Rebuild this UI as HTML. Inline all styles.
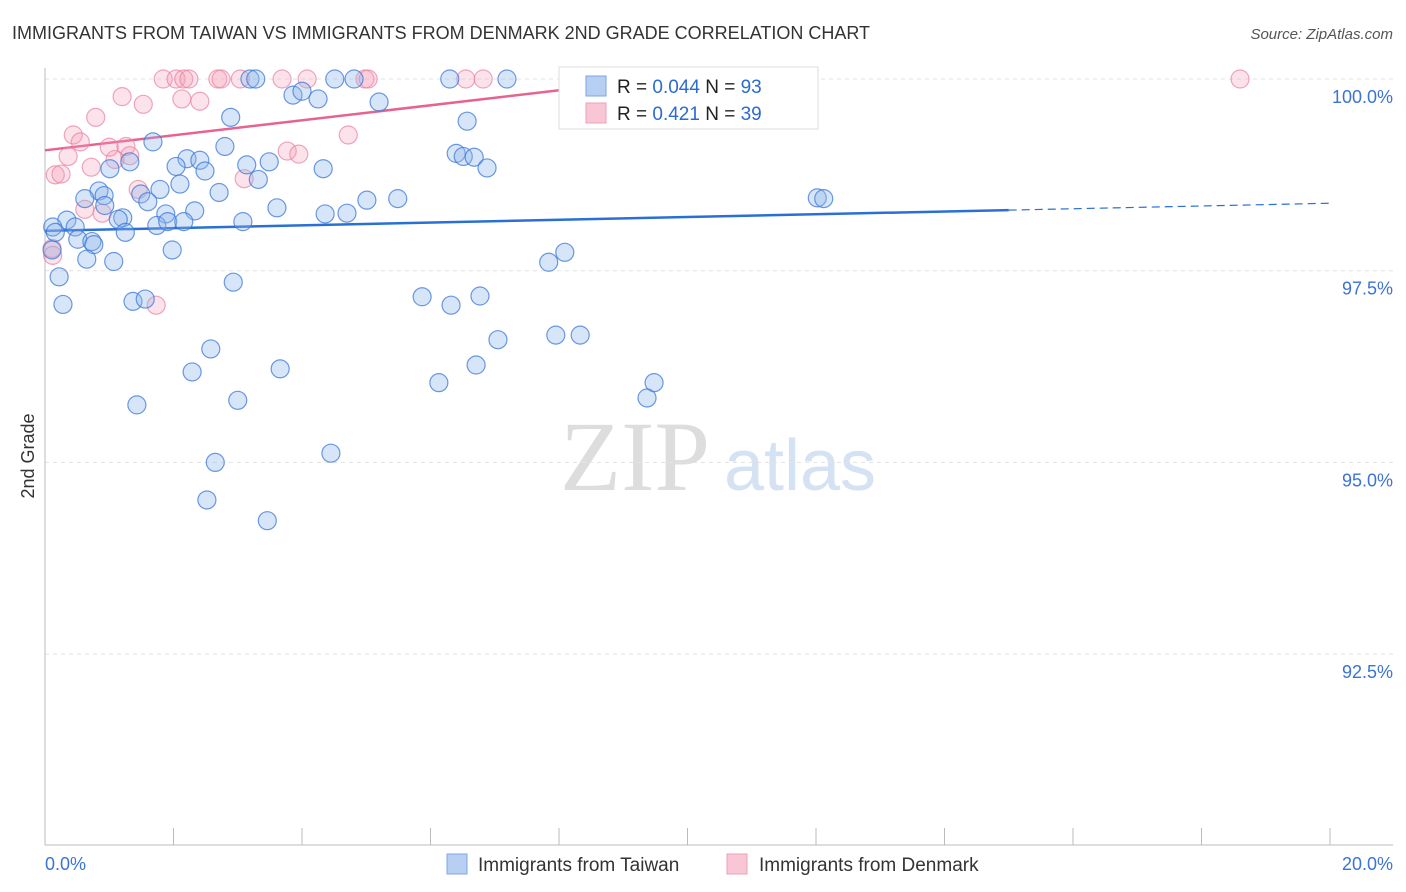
<!DOCTYPE html>
<html><head><meta charset="utf-8"><style>
body{margin:0;background:#fff;font-family:"Liberation Sans",sans-serif;}
svg{display:block}
</style></head><body>
<svg id="chart" width="1406" height="892">
<text x="12" y="39" font-size="18" fill="#333">IMMIGRANTS FROM TAIWAN VS IMMIGRANTS FROM DENMARK 2ND GRADE CORRELATION CHART</text>
<text x="1393" y="39" font-size="15" fill="#555" font-style="italic" text-anchor="end">Source: ZipAtlas.com</text>
<text x="34" y="456" font-size="18" fill="#333" text-anchor="middle" transform="rotate(-90 34 456)">2nd Grade</text>
<g><text x="635" y="490" font-size="100" fill="#ddd" font-family="Liberation Serif,serif" text-anchor="middle">ZIP</text><text x="800" y="490" font-size="72" fill="#d4e2f4" text-anchor="middle">atlas</text></g>
<g id="grid"></g><g id="axes"></g><g id="lines"></g><g id="pts"></g>
<g>
<rect x="559" y="67" width="259" height="62" fill="#fff" stroke="#ddd"/>
<rect x="586" y="76" width="20" height="20" fill="#b6cff3" stroke="#7fa6e6"/>
<rect x="586" y="103" width="20" height="20" fill="#f8c6d5" stroke="#eca0b8"/>
<text x="617" y="93" font-size="19" fill="#222">R = <tspan fill="#2a6bd1">0.044</tspan>   N = <tspan fill="#2a6bd1">93</tspan></text>
<text x="617" y="120" font-size="19" fill="#222">R =  <tspan fill="#2a6bd1">0.421</tspan>   N = <tspan fill="#2a6bd1">39</tspan></text>
</g>
<g>
<rect x="447" y="854" width="20" height="20" fill="#b6cff3" stroke="#7fa6e6"/>
<text x="478" y="871" font-size="19" fill="#333">Immigrants from Taiwan</text>
<rect x="727" y="854" width="20" height="20" fill="#f8c6d5" stroke="#eca0b8"/>
<text x="759" y="871" font-size="19" fill="#333">Immigrants from Denmark</text>
</g>
</svg>
<script>
const xTicks=[0,2,4,6,8,10,12,14,16,18,20];
const yTicks=[100,97.5,95,92.5];
const yTickLabels=["100.0%","97.5%","95.0%","92.5%"];
const taiwanX=[3.19,3.28,4.51,4.81,6.30,7.19,11.75,3.86,4.00,4.25,5.20,2.89,6.57,1.68,2.80,6.40,6.51,6.68,2.21,2.41,2.04,2.49,3.14,3.49,4.33,6.88,1.32,1.01,3.32,2.10,0.84,1.79,2.71,1.49,0.92,1.60,0.62,0.93,2.33,1.88,3.61,4.36,4.70,5.01,5.49,12.02,12.12,0.34,1.21,1.14,0.47,1.74,1.91,2.16,3.08,0.12,0.16,1.25,0.51,0.73,0.76,1.98,0.65,1.07,7.84,8.09,0.11,0.22,2.93,0.28,1.37,1.56,5.87,6.32,6.77,7.05,7.95,8.33,2.58,2.29,3.66,6.71,6.13,9.48,9.37,1.43,3.00,2.65,4.45,2.52,3.46];
const taiwanY=[100,100,100,100,100,100,100,99.79,99.84,99.74,99.70,99.50,99.45,99.18,99.12,99.03,98.99,98.98,98.96,98.94,98.86,98.80,98.88,98.92,98.83,98.84,98.92,98.83,98.69,98.63,98.54,98.56,98.52,98.50,98.48,98.40,98.44,98.35,98.28,98.24,98.32,98.24,98.25,98.42,98.44,98.45,98.44,98.16,98.19,98.17,98.07,98.09,98.14,98.14,98.14,98.07,98.00,98.00,97.91,97.88,97.84,97.77,97.65,97.62,97.61,97.74,97.77,97.42,97.35,97.06,97.10,97.13,97.16,97.05,97.17,96.60,96.66,96.66,96.48,96.18,96.22,96.27,96.04,96.04,95.84,95.75,95.81,95.00,95.12,94.51,94.24];
const denmarkX=[1.84,2.04,2.16,2.24,2.69,2.74,3.04,3.69,4.08,4.98,5.03,6.55,6.82,18.60,1.20,2.13,1.53,2.41,0.79,0.44,0.55,4.72,0.36,1.09,1.00,1.26,1.32,3.77,3.95,0.72,0.16,0.25,3.10,1.45,0.62,0.89,1.73,0.11,0.12];
const denmarkY=[100,100,100,100,100,100,100,100,100,100,100,100,100,100,99.77,99.74,99.67,99.71,99.50,99.27,99.18,99.27,98.99,98.95,99.11,99.12,99.00,99.06,99.02,98.85,98.75,98.76,98.70,98.56,98.30,98.25,97.05,97.79,97.70];
const taiwanR=[0,0.044];const taiwanLine=[[0,98.02],[15.0,98.29],[20,98.38]];
const denmarkLine=[[0,99.07],[9.4,99.99]];
const X=v=>45+v/20*1285, Y=v=>79+(100-v)/2.5*191.7;
const NS="http://www.w3.org/2000/svg";
function mk(p,t,a){const e=document.createElementNS(NS,t);for(const k in a)e.setAttribute(k,a[k]);p.appendChild(e);return e;}
const grid=document.getElementById('grid'),axes=document.getElementById('axes'),lines=document.getElementById('lines'),pts=document.getElementById('pts');
yTicks.forEach((v,i)=>{
 const l=mk(grid,'line',{x1:45,x2:1393,y1:Y(v),y2:Y(v),stroke:'#e2e2e2','stroke-dasharray':'4 4'});
 
 
 const t=mk(axes,'text',{x:1393,y:Y(v)+24,'font-size':18,fill:'#3b73d6','text-anchor':'end'});t.textContent=yTickLabels[i];
 
 
});
mk(axes,'line',{x1:45,x2:45,y1:68,y2:845,stroke:'#bbb'});
mk(axes,'line',{x1:45,x2:1393,y1:845,y2:845,stroke:'#bbb'});
xTicks.forEach(v=>{const t=mk(axes,'line',{x1:X(v),x2:X(v),y1:828,y2:845,stroke:'#bbb'});
 
 });
const xl0=mk(axes,'text',{x:45,y:870,'font-size':18,fill:'#3b73d6'});xl0.textContent='0.0%';


const xl1=mk(axes,'text',{x:1393,y:870,'font-size':18,fill:'#3b73d6','text-anchor':'end'});xl1.textContent='20.0%';


function pt(x,y,fill,stroke,name){const c=mk(pts,'circle',{cx:X(x),cy:Y(y),r:9,fill:fill,stroke:stroke,'stroke-width':1.2});
 
 }
denmarkX.forEach((x,i)=>pt(x,denmarkY[i],'rgba(244,160,186,0.3)','rgba(232,130,160,0.7)','denmark-point'));
taiwanX.forEach((x,i)=>pt(x,taiwanY[i],'rgba(140,180,236,0.35)','rgba(60,120,215,0.75)','taiwan-point'));
const b1=mk(lines,'line',{x1:X(taiwanLine[0][0]),y1:Y(taiwanLine[0][1]),x2:X(taiwanLine[1][0]),y2:Y(taiwanLine[1][1]),stroke:'#2a6fd6','stroke-width':2.5});


const b2=mk(lines,'line',{x1:X(taiwanLine[1][0]),y1:Y(taiwanLine[1][1]),x2:X(taiwanLine[2][0]),y2:Y(taiwanLine[2][1]),stroke:'#2a6fd6','stroke-width':1.2,'stroke-dasharray':'8 5'});


const p1=mk(lines,'line',{x1:X(denmarkLine[0][0]),y1:Y(denmarkLine[0][1]),x2:X(denmarkLine[1][0]),y2:Y(denmarkLine[1][1]),stroke:'#e8628f','stroke-width':2.5});


</script>
</body></html>
